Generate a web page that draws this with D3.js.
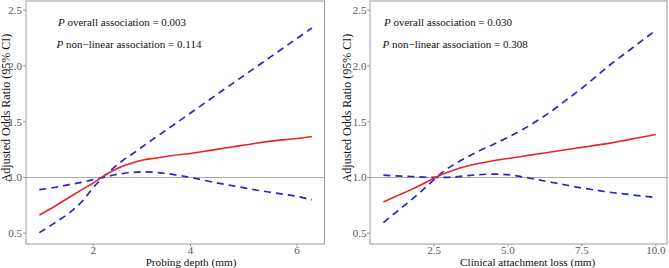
<!DOCTYPE html>
<html><head><meta charset="utf-8">
<script src="https://cdn.jsdelivr.net/npm/d3@7"></script>
<style>body{margin:0;background:#fff}svg{display:block}</style>
</head><body>
<svg id="c" width="669" height="268"></svg>
<script>
// Panel A: probing depth
const pdX     = [0.89,1.2,1.5,1.8,2.0,2.2,2.4,2.6,2.8,3.0,3.3,3.6,4.0,4.4,4.8,5.2,5.6,6.0,6.28];
const pdOR    = [0.663,0.74,0.82,0.90,0.95,1.01,1.06,1.10,1.13,1.155,1.175,1.195,1.215,1.245,1.275,1.305,1.33,1.35,1.368];
const pdCIa   = [0.505,0.59,0.68,0.80,0.91,1.00,1.08,1.15,1.21,1.273,1.365,1.456,1.578,1.712,1.846,1.98,2.113,2.247,2.34];
const pdCIb   = [0.89,0.91,0.935,0.96,0.98,1.0,1.02,1.035,1.045,1.05,1.045,1.03,1.0,0.96,0.925,0.89,0.86,0.83,0.80];
const pdTicks = [2,4,6];
// Panel B: clinical attachment loss
const calX    = [0.79,1.2,1.6,2.0,2.4,2.8,3.2,3.6,4.0,4.5,5.0,5.5,6.0,6.5,7.0,7.5,8.0,8.5,9.0,9.5,10.0];
const calOR   = [0.78,0.83,0.875,0.925,0.98,1.03,1.07,1.10,1.125,1.15,1.17,1.19,1.21,1.23,1.25,1.27,1.29,1.31,1.335,1.36,1.385];
const calCIa  = [0.595,0.685,0.77,0.86,0.955,1.05,1.12,1.18,1.235,1.295,1.36,1.43,1.51,1.60,1.70,1.80,1.91,2.02,2.12,2.22,2.32];
const calCIb  = [1.02,1.015,1.01,1.005,1.0,1.0,1.005,1.015,1.025,1.03,1.025,1.005,0.98,0.955,0.93,0.905,0.885,0.865,0.85,0.835,0.82];
const calTicks = [2.5,5.0,7.5,10.0];
const yTicks = [0.5,1.0,1.5,2.0,2.5];
const yTitle = "Adjusted Odds Ratio (95% CI)";
const FONT = "'Liberation Serif','Times New Roman',serif";
const panels = [
  {xs:pdX, or:pdOR, a:pdCIa, b:pdCIb, ticks:pdTicks, fmt:d3.format("d"),
   xDom:[2,4,6], xRange:[93.3,190.5,297], left:26, right:324.5,
   xTitle:"Probing depth (mm)", xTitleX:191, yTitleX:9.5, yTickX:22,
   p1:"0.003", p2:"0.114", px1:58, px2:56.5},
  {xs:calX, or:calOR, a:calCIa, b:calCIb, ticks:calTicks, fmt:d3.format(".1f"),
   xDom:[2.5,10], xRange:[434,655.8], left:370, right:667,
   xTitle:"Clinical attachment loss (mm)", xTitleX:527.7, yTitleX:350.5, yTickX:366.5,
   p1:"0.030", p2:"0.308", px1:384, px2:382.5}
];
const svg = d3.select("#c");
const pTop = 1, pBottom = 244;
const y = d3.scaleLinear().domain([0.5,2.5]).range([233.2,10.2]);
panels.forEach(p => {
  const x = d3.scaleLinear().domain(p.xDom).range(p.xRange);
  const g = svg.append("g");
  g.append("line").attr("x1",p.left).attr("x2",p.right).attr("y1",y(1)).attr("y2",y(1))
    .attr("stroke","#ababab").attr("stroke-width",1.1);
  const line = d3.line().x((d,i)=>x(p.xs[i])).y(d=>y(d)).curve(d3.curveMonotoneX);
  [p.a,p.b].forEach(s => g.append("path").attr("d",line(s)).attr("fill","none")
    .attr("stroke","#2525c8").attr("stroke-width",1.7).attr("stroke-dasharray","7,5"));
  g.append("path").attr("d",line(p.or)).attr("fill","none")
    .attr("stroke","#e8232b").attr("stroke-width",1.6);
  g.append("rect").attr("x",p.left).attr("y",pTop).attr("width",p.right-p.left).attr("height",pBottom-pTop)
    .attr("fill","none").attr("stroke","#9a9a9a").attr("stroke-width",1);
  yTicks.forEach(t => {
    g.append("line").attr("x1",p.left-3).attr("x2",p.left).attr("y1",y(t)).attr("y2",y(t))
      .attr("stroke","#9a9a9a");
    g.append("text").attr("x",p.yTickX).attr("y",y(t)).attr("dy","0.35em").attr("text-anchor","end")
      .attr("font-family",FONT).attr("font-size",11).attr("fill","#555")
      .text(d3.format(".1f")(t));
  });
  p.ticks.forEach(t => {
    g.append("line").attr("x1",x(t)).attr("x2",x(t)).attr("y1",pBottom).attr("y2",pBottom+2.5)
      .attr("stroke","#9a9a9a");
    g.append("text").attr("x",x(t)).attr("y",pBottom+9.5).attr("text-anchor","middle")
      .attr("font-family",FONT).attr("font-size",11).attr("fill","#555")
      .text(p.fmt(t));
  });
  g.append("text").attr("x",p.xTitleX).attr("y",265.6).attr("text-anchor","middle")
    .attr("font-family",FONT).attr("font-size",11.2).attr("fill","#111").text(p.xTitle);
  g.append("text").attr("transform",`translate(${p.yTitleX},108) rotate(-90)`).attr("text-anchor","middle")
    .attr("font-family",FONT).attr("font-size",12).attr("fill","#111").text(yTitle);
  [[p.px1,25.5,"overall association = "+p.p1],[p.px2,47.5,"non\u2212linear association = "+p.p2]].forEach(a => {
    const t = g.append("text").attr("x",a[0]).attr("y",a[1])
      .attr("font-family",FONT).attr("font-size",11).attr("fill","#111");
    t.append("tspan").attr("font-style","italic").text("P");
    t.append("tspan").text(" "+a[2]);
  });
});
</script>
</body></html>
